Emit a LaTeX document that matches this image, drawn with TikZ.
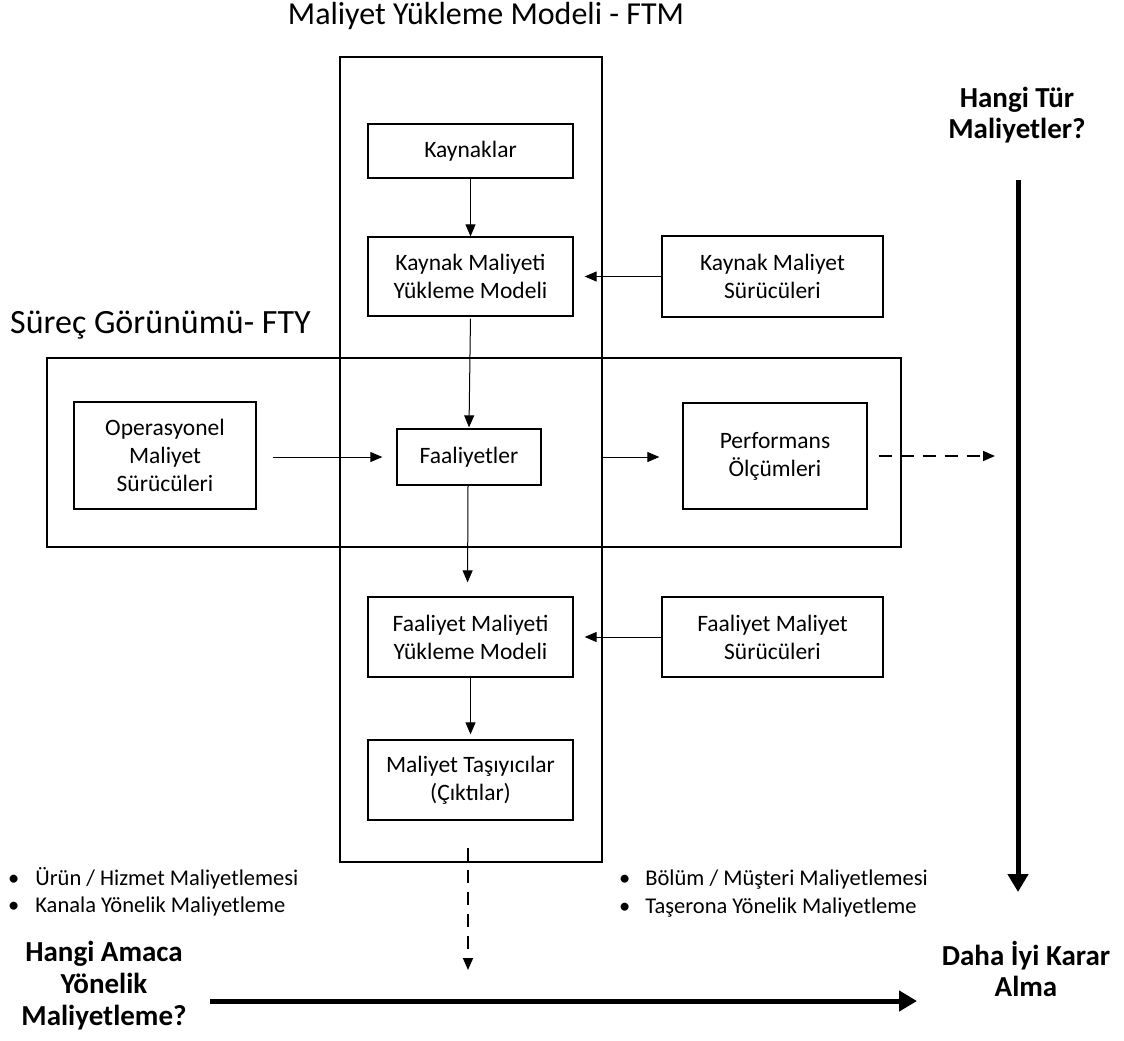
\documentclass[tikz,border=0pt]{standalone}
\usepackage{fontspec}
\setmainfont{Carlito}
\usetikzlibrary{arrows.meta}
\begin{document}
\begin{tikzpicture}[x=1pt,y=-1pt,
  box/.style={draw,line width=1.3pt,minimum width=#1,align=center,inner sep=0pt,
    font=\fontsize{23.5}{28}\selectfont},
  frame/.style={draw,line width=1.3pt},
  arr/.style={-{Triangle[length=12pt,width=10pt]},line width=1pt},
  darr/.style={arr,line width=1.6pt,dash pattern=on 13pt off 9pt},
  bigarr/.style={-{Triangle[length=18pt,width=20pt]},line width=5pt},
  lbl/.style={font=\fontsize{22.5}{28}\selectfont,anchor=west,inner sep=0pt},
  head/.style={font=\fontsize{29}{31}\selectfont\bfseries,align=center,inner sep=0pt}]
\useasboundingbox (0,0) rectangle (1124,1041);

% the two model frames
\draw[frame] (340,57) rectangle (602,862);
\draw[frame] (47,358) rectangle (901,547);

% boxes inside the cost assignment model
\node[box=205pt,minimum height=54pt] (kay) at (470.5,151) {Kaynaklar};
\node[box=205pt,minimum height=79pt] (kmym) at (470.5,276.5) {Kaynak Maliyeti\\Yükleme Modeli};
\node[box=221pt,minimum height=81pt] (kms) at (772.5,276.5) {Kaynak Maliyet\\Sürücüleri};
\node[box=182pt,minimum height=107pt] (ops) at (165,455.5) {Operasyonel\\Maliyet\\Sürücüleri};
\node[box=144pt,minimum height=56pt] (faal) at (469,457) {Faaliyetler};
\node[box=184pt,minimum height=106pt] (perf) at (775,456) {Performans\\Ölçümleri};
\node[box=205pt,minimum height=80pt] (fmym) at (470.5,637) {Faaliyet Maliyeti\\Yükleme Modeli};
\node[box=221pt,minimum height=80pt] (fms) at (772.5,637) {Faaliyet Maliyet\\Sürücüleri};
\node[box=205pt,minimum height=80pt] (mtc) at (470.5,780) {Maliyet Taşıyıcılar\\(Çıktılar)};

% connectors
\draw[arr] (kay.south) -- (kmym.north);
\draw[arr,shorten <=2pt,shorten >=1pt] (kmym.south) -- (faal.north);
\draw[arr,shorten >=11pt] (kms.west) -- (kmym.east);
\draw[arr,shorten <=16pt,shorten >=14pt] (ops.east |- faal.west) -- (faal.west);
\draw[arr,shorten <=59pt,shorten >=23pt] (faal.east) -- (perf.west |- faal.east);
\coordinate (perfend) at (995,456);
\draw[darr,shorten <=11pt] (perf.east) -- (perfend);
\draw[arr,shorten >=14pt] ([xshift=-1pt]faal.south) -- ([xshift=-3pt]fmym.north);
\draw[arr,shorten >=11pt] (fms.west) -- (fmym.east);
\draw[arr,shorten >=5pt] (fmym.south) -- (mtc.north);
\coordinate (mtcend) at (468,970);
\draw[darr,shorten <=27pt] ([xshift=-2.5pt]mtc.south) -- (mtcend);

% titles
\node[font=\fontsize{32}{36}\selectfont,inner sep=0pt] (ftm) at (486,16) {Maliyet Yükleme Modeli - FTM};
\node[font=\fontsize{34}{38}\selectfont,anchor=west,inner sep=0pt] (fty) at (10,325) {Süreç Görünümü- FTY};

% decision axes
\node[head] (tur) at (1017,115) {Hangi Tür\\Maliyetler?};
\node[head,font=\fontsize{29}{32}\selectfont\bfseries] (amac) at (104,986) {Hangi Amaca\\Yönelik\\Maliyetleme?};
\node[head] (karar) at (1026,969) {Daha İyi Karar\\Alma};
\coordinate (vtop) at (1018,180);
\coordinate (vbot) at (1018,892);
\coordinate (hl) at (210,1001);
\coordinate (hr) at (917,1001);
\draw[bigarr] (vtop) -- (vbot);
\draw[bigarr] (hl) -- (hr);

% costing purposes
\node[lbl] (b1) at (8,878) {•\hspace{16pt}Ürün / Hizmet Maliyetlemesi};
\node[lbl] (b2) at (8,906) {•\hspace{16pt}Kanala Yönelik Maliyetleme};
\node[lbl] (b3) at (619,880) {•\hspace{15pt}Bölüm / Müşteri Maliyetlemesi};
\node[lbl] (b4) at (619,908) {•\hspace{15pt}Taşerona Yönelik Maliyetleme};
\end{tikzpicture}
\end{document}
